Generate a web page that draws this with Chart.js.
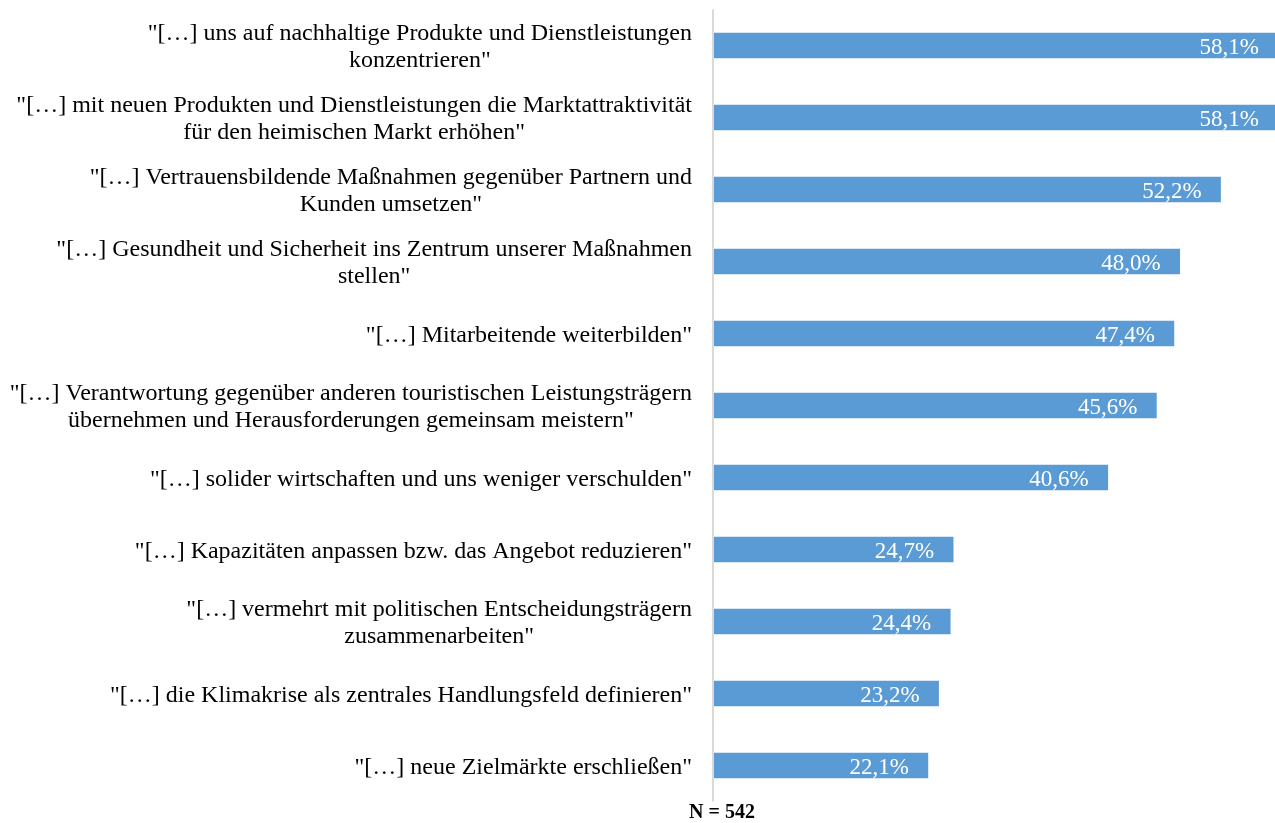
<!DOCTYPE html>
<html>
<head>
<meta charset="utf-8">
<script src="https://cdn.jsdelivr.net/npm/chart.js@4"></script>
<style>
  html, body { margin: 0; padding: 0; background: #fff; }
  #wrap { width: 1275px; height: 823px; position: relative; }
</style>
</head>
<body>
<div id="wrap"><canvas id="barChart"></canvas></div>
<script>
const categories = [
    ['"[…] uns auf nachhaltige Produkte und Dienstleistungen', 'konzentrieren"'],
    ['"[…] mit neuen Produkten und Dienstleistungen die Marktattraktivität', 'für den heimischen Markt erhöhen"'],
    ['"[…] Vertrauensbildende Maßnahmen gegenüber Partnern und', 'Kunden umsetzen"'],
    ['"[…] Gesundheit und Sicherheit ins Zentrum unserer Maßnahmen', 'stellen"'],
    ['"[…] Mitarbeitende weiterbilden"'],
    ['"[…] Verantwortung gegenüber anderen touristischen Leistungsträgern', 'übernehmen und Herausforderungen gemeinsam meistern"'],
    ['"[…] solider wirtschaften und uns weniger verschulden"'],
    ['"[…] Kapazitäten anpassen bzw. das Angebot reduzieren"'],
    ['"[…] vermehrt mit politischen Entscheidungsträgern', 'zusammenarbeiten"'],
    ['"[…] die Klimakrise als zentrales Handlungsfeld definieren"'],
    ['"[…] neue Zielmärkte erschließen"'],
];
const values = [58.1, 58.1, 52.2, 48.0, 47.4, 45.6, 40.6, 24.7, 24.4, 23.2, 22.1];
const footnote = "N = 542";

const serif = '"Liberation Serif", "Times New Roman", serif';

// labels, value texts, axis line and footnote
const textPlugin = {
    id: "textPlugin",
    afterDraw(chart) {
        const c = chart.ctx;
        const area = chart.chartArea;
        const y = chart.scales.y;
        const meta = chart.getDatasetMeta(0);

        c.save();
        // vertical axis line
        c.strokeStyle = "#d9d9d9";
        c.lineWidth = 2;
        c.beginPath();
        c.moveTo(area.left, area.top);
        c.lineTo(area.left, area.bottom);
        c.stroke();

        // category labels
        c.fillStyle = "#000";
        c.font = "24px " + serif;
        c.textAlign = "center";
        c.textBaseline = "middle";
        const lh = 27;
        categories.forEach((lines, i) => {
            const cy = y.getPixelForValue(i);
            const w = Math.max(...lines.map(l => c.measureText(l).width));
            const cx = area.left - 21 - w / 2;
            const y0 = cy - (lines.length - 1) * lh / 2 + 2;
            lines.forEach((l, k) => c.fillText(l, cx, y0 + k * lh));
        });

        // values inside bars
        c.fillStyle = "#fff";
        c.font = "23px " + serif;
        c.textAlign = "right";
        meta.data.forEach((bar, i) => {
            const txt = values[i].toFixed(1).replace(".", ",") + "%";
            c.fillText(txt, bar.x - 19, bar.y + 2);
        });

        // footnote
        c.fillStyle = "#000";
        c.font = "bold 20px " + serif;
        c.textAlign = "center";
        c.fillText(footnote, area.left + 9, area.bottom + 11);
        c.restore();
    },
};

const ctx = document.getElementById("barChart").getContext("2d");
new Chart(ctx, {
    type: "bar",
    data: {
        labels: categories,
        datasets: [{
            data: values,
            backgroundColor: "#5B9BD5",
            barThickness: 25,
        }],
    },
    options: {
        indexAxis: "y",
        responsive: true,
        maintainAspectRatio: false,
        animation: false,
        layout: { padding: { left: 713, right: 0, top: 9.5, bottom: 21.5 } },
        plugins: {
            legend: { display: false },
            tooltip: { enabled: false },
        },
        scales: {
            x: { display: false, min: 0, max: 57.8 },
            y: { display: false },
        },
    },
    plugins: [textPlugin],
});
</script>
</body>
</html>
